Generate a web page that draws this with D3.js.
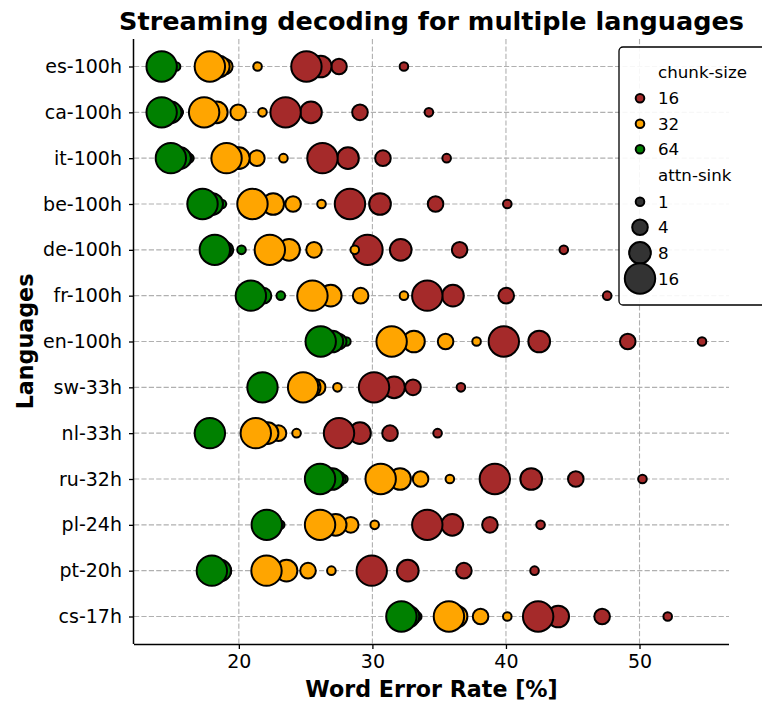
<!DOCTYPE html>
<html>
<head>
<meta charset="utf-8">
<script src="https://cdn.jsdelivr.net/npm/d3@7"></script>
<style>
  html, body { margin: 0; padding: 0; background: #fff; }
  svg { display: block; font-family: "DejaVu Sans", sans-serif; }
</style>
</head>
<body>
<svg id="chart" width="762" height="704"></svg>
<script>
// Languages, top to bottom
const languages = ["es-100h", "ca-100h", "it-100h", "be-100h", "de-100h", "fr-100h",
  "en-100h", "sw-33h", "nl-33h", "ru-32h", "pl-24h", "pt-20h", "cs-17h"];

const chunkSizes = [16, 32, 64];
const attnSinks = [1, 4, 8, 16];
const xTicks = [20, 30, 40, 50];

// WER [%] per language, chunk-size 16
const wer16_sink1  = [32.36, 34.23, 35.56, 40.10, 44.33, 47.58, 54.68, 36.63, 34.88, 50.22, 42.59, 42.14, 52.11];
const wer16_sink4  = [27.50, 29.07, 30.79, 34.73, 36.53, 40.02, 49.12, 33.04, 31.32, 45.23, 38.80, 36.85, 47.20];
const wer16_sink8  = [26.13, 25.40, 28.17, 30.57, 32.12, 36.03, 42.49, 31.62, 29.07, 41.89, 35.98, 32.65, 43.91];
const wer16_sink16 = [25.06, 23.50, 26.26, 28.32, 29.63, 34.11, 39.84, 30.12, 27.50, 39.17, 34.11, 29.95, 42.41];

// chunk-size 32
const wer32_sink1  = [21.40, 21.77, 23.34, 26.19, 28.68, 32.36, 37.80, 27.38, 24.32, 35.80, 30.17, 26.93, 40.10];
const wer32_sink4  = [18.95, 19.95, 21.35, 24.06, 25.63, 29.12, 35.48, 25.90, 22.97, 33.61, 28.38, 25.18, 38.10];
const wer32_sink8  = [18.50, 18.35, 20.00, 22.57, 23.76, 26.88, 33.11, 25.30, 22.15, 32.07, 27.25, 23.57, 36.30];
const wer32_sink16 = [17.83, 17.40, 19.08, 21.02, 22.32, 25.51, 31.44, 24.81, 21.27, 30.62, 26.08, 22.07, 35.73];

// chunk-size 64
const wer64_sink1  = [15.30, 15.50, 16.30, 18.73, 20.20, 23.14, 28.05, 22.10, 18.30, 27.83, 23.10, 19.10, 33.36];
const wer64_sink4  = [14.70, 15.20, 15.90, 18.20, 19.00, 21.85, 27.48, 22.00, 18.10, 27.40, 22.70, 18.85, 33.00];
const wer64_sink8  = [14.50, 14.90, 15.60, 18.00, 18.60, 21.20, 27.00, 21.90, 17.95, 27.00, 22.40, 18.60, 32.70];
const wer64_sink16 = [14.22, 14.22, 14.91, 17.28, 18.20, 20.90, 26.13, 21.77, 17.83, 26.08, 22.09, 17.98, 32.17];

const werTable = {
  16: {1: wer16_sink1, 4: wer16_sink4, 8: wer16_sink8, 16: wer16_sink16},
  32: {1: wer32_sink1, 4: wer32_sink4, 8: wer32_sink8, 16: wer32_sink16},
  64: {1: wer64_sink1, 4: wer64_sink4, 8: wer64_sink8, 16: wer64_sink16}
};

// long-format rows: drawn chunk by chunk, small sinks first so big ones sit on top
const rows = [];
chunkSizes.forEach(c => attnSinks.forEach(s => languages.forEach((lang, i) => {
  rows.push({lang, idx: i, chunk: c, sink: s, wer: werTable[c][s][i]});
})));

const svg = d3.select("#chart");
const plotLeft = 134, plotRight = 729, plotTop = 39, plotBottom = 644;

const x = d3.scaleLinear().domain([12.15, 56.7]).range([plotLeft, plotRight]);
const y = d3.scaleLinear().domain([-0.6, languages.length - 1 + 0.6]).range([plotTop, plotBottom]);
const color = d3.scaleOrdinal().domain(chunkSizes).range(["#a52a2a", "#ffa500", "#008000"]);
const area = d3.scaleLinear().domain([1, 16]).range([4.3 * 4.3, 15.2 * 15.2]);
const radius = v => Math.sqrt(area(v));
const edgeWidth = 2;

// grid
const grid = svg.append("g").attr("stroke", "#b0b0b0").attr("stroke-width", 1.1)
  .attr("stroke-dasharray", "5.2,2.2").attr("fill", "none");
grid.selectAll("line.v").data(xTicks).join("line").attr("class", "v")
  .attr("x1", d => x(d)).attr("x2", d => x(d)).attr("y1", plotTop).attr("y2", plotBottom);
grid.selectAll("line.h").data(languages).join("line").attr("class", "h")
  .attr("x1", plotLeft).attr("x2", plotRight).attr("y1", (d, i) => y(i)).attr("y2", (d, i) => y(i));

// points
svg.append("g").selectAll("circle").data(rows).join("circle")
  .attr("cx", d => x(d.wer)).attr("cy", d => y(d.idx)).attr("r", d => radius(d.sink))
  .attr("fill", d => color(d.chunk)).attr("stroke", "#000").attr("stroke-width", edgeWidth);

// axes
const xAxis = d3.axisBottom(x).tickValues(xTicks).tickSize(5).tickPadding(6).tickFormat(d3.format("d"));
const gx = svg.append("g").attr("transform", `translate(0,${plotBottom})`).call(xAxis);
gx.select(".domain").attr("d", `M${plotLeft},0.5H${plotRight}`).attr("stroke-width", 1.5);

const yAxis = d3.axisLeft(y).tickValues(d3.range(languages.length)).tickSize(5).tickPadding(7)
  .tickFormat(i => languages[i]);
const gy = svg.append("g").attr("transform", `translate(${plotLeft},0)`).call(yAxis);
gy.select(".domain").attr("d", `M-0.5,${plotTop}V${plotBottom}`).attr("stroke-width", 1.5);

[gx, gy].forEach(g => {
  g.selectAll(".tick line").attr("stroke", "#000").attr("stroke-width", 1.3);
  g.selectAll(".tick text").attr("fill", "#000").style("font-size", "19px")
    .style("font-family", "'DejaVu Sans', sans-serif");
});

// titles
svg.append("text").attr("x", (plotLeft + plotRight) / 2).attr("y", 29.5).attr("text-anchor", "middle")
  .style("font-size", "25.5px").style("font-weight", "bold").text("Streaming decoding for multiple languages");
svg.append("text").attr("x", (plotLeft + plotRight) / 2).attr("y", 697).attr("text-anchor", "middle")
  .style("font-size", "22.2px").style("font-weight", "bold").text("Word Error Rate [%]");
svg.append("text").attr("transform", `translate(32.5,${(plotTop + plotBottom) / 2}) rotate(-90)`)
  .attr("text-anchor", "middle").style("font-size", "22.2px").style("font-weight", "bold").text("Languages");

// legend
const lg = svg.append("g");
lg.append("rect").attr("x", 619).attr("y", 47).attr("width", 170).attr("height", 258).attr("rx", 4)
  .attr("fill", "#fff").attr("fill-opacity", 0.9).attr("stroke", "#000").attr("stroke-width", 1.3);
const mx = 640, tx = 658, fs = "16.7px";
const legendItems = [
  {label: "chunk-size", y: 71.7, head: true},
  ...chunkSizes.map((c, i) => ({label: String(c), y: 98.3 + i * 25.5, fill: color(c), r: radius(1)})),
  {label: "attn-sink", y: 175, head: true},
  ...attnSinks.map((s, i) => ({label: String(s), y: 201.7 + i * 25.6, fill: "#333333", r: radius(s)}))
];
legendItems.forEach(it => {
  if (!it.head) {
    lg.append("circle").attr("cx", mx).attr("cy", it.y).attr("r", it.r)
      .attr("fill", it.fill).attr("stroke", "#000").attr("stroke-width", edgeWidth);
  }
  lg.append("text").attr("x", tx).attr("y", it.y + 6).style("font-size", fs).text(it.label);
});
</script>
</body>
</html>
